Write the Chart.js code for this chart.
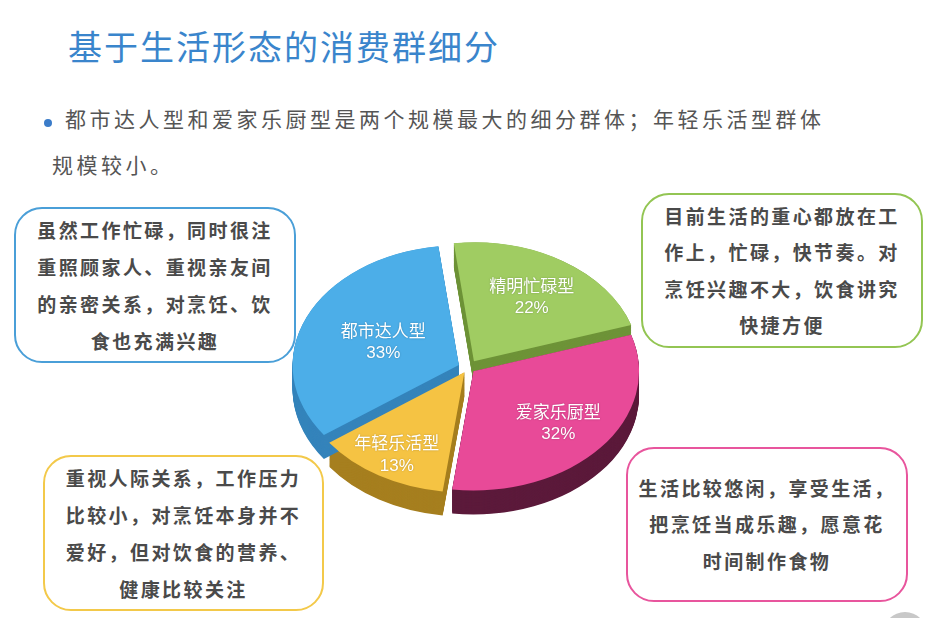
<!DOCTYPE html>
<html>
<head>
<meta charset="utf-8">
<script src="https://cdn.jsdelivr.net/npm/chart.js@4"></script>
<style>
  html, body { margin: 0; padding: 0; background: #fff; }
  body { width: 930px; height: 618px; position: relative; overflow: hidden;
         font-family: "Noto Sans CJK SC", "Noto Sans", sans-serif; }
  .title { position: absolute; left: 68px; top: 24px; font-size: 34px; line-height: 44px;
           letter-spacing: 2px; color: #3a85cc; }
  .bullet { position: absolute; left: 44px; top: 119px; width: 8px; height: 8px;
            border-radius: 50%; background: #3b7cc9; }
  .lead { position: absolute; font-size: 21px; line-height: 30px; letter-spacing: 3.5px; color: #555; }
  .box { position: absolute; box-sizing: border-box; border: 2px solid; border-radius: 28px;
         display: flex; align-items: center; justify-content: center; text-align: center;
         font-size: 19px; letter-spacing: 2.4px; color: #4a4a4a; font-weight: bold; }
  #pieWrap { position: absolute; left: 278px; top: 208px; width: 380px; height: 320px; }
  .dot { position: absolute; left: 883px; top: 612px; width: 44px; height: 44px;
         border-radius: 50%; background: #c8c8c8; }
</style>
</head>
<body>
<div class="title">基于生活形态的消费群细分</div>
<div class="bullet"></div>
<div class="lead" style="left:65px; top:103px;">都市达人型和爱家乐厨型是两个规模最大的细分群体；年轻乐活型群体</div>
<div class="lead" style="left:52px; top:149px;">规模较小。</div>

<div class="box" style="left:14px; top:207px; width:282px; height:156px; border-color:#4a9fd8; line-height:37px;">
  <div>虽然工作忙碌，同时很注<br>重照顾家人、重视亲友间<br>的亲密关系，对烹饪、饮<br>食也充满兴趣</div>
</div>
<div class="box" style="left:641px; top:193px; width:282px; height:155px; border-color:#93c553; line-height:36.5px;">
  <div>目前生活的重心都放在工<br>作上，忙碌，快节奏。对<br>烹饪兴趣不大，饮食讲究<br>快捷方便</div>
</div>
<div class="box" style="left:43px; top:455px; width:281px; height:156px; border-color:#f3c94a; line-height:37px;">
  <div>重视人际关系，工作压力<br>比较小，对烹饪本身并不<br>爱好，但对饮食的营养、<br>健康比较关注</div>
</div>
<div class="box" style="left:626px; top:447px; width:282px; height:155px; border-color:#e8559d; line-height:36.5px;">
  <div>生活比较悠闲，享受生活，<br>把烹饪当成乐趣，愿意花<br>时间制作食物</div>
</div>

<div id="pieWrap"><canvas id="pieChart"></canvas></div>
<div class="dot"></div>

<script>
// data, clockwise from the top
var segNames = ["精明忙碌型", "爱家乐厨型", "年轻乐活型", "都市达人型"];
var segShares = [22, 32, 13, 33];

var topColors = ["#a0cc62", "#e84a98", "#f5c343", "#4caee8"];
var sideColors = ["#6e9338", "#5c1a3b", "#a67f1f", "#3584bb"];
var explode = [44, 28, 28, 40];
// how far out along each slice the label sits (fraction of radius)
var labelDepth = [0.65, 0.67, 0.8, 0.5];

var tilt = 0.72;   // vertical squash of the disc
var depth = 24;    // thickness in page pixels

// squash the pie into an ellipse and extrude the slices
var pie3d = {
  id: 'pie3d',
  beforeDatasetsDraw: function (chart) {
    var ctx = chart.ctx;
    var arcs = chart.getDatasetMeta(0).data;
    var cx = arcs[0].x, cy = arcs[0].y;
    ctx.save();
    ctx.translate(cx, cy);
    ctx.scale(1, tilt);
    ctx.translate(-cx, -cy);
    arcs.forEach(function (arc, i) {
      var side = Object.create(arc);
      side.options = Object.assign({}, arc.options, { backgroundColor: sideColors[i], borderWidth: 0 });
      for (var d = depth / tilt; d > 0; d -= 1) {
        ctx.save();
        ctx.translate(0, d);
        side.draw(ctx);
        ctx.restore();
      }
    });
  },
  afterDatasetsDraw: function (chart) {
    var ctx = chart.ctx;
    ctx.restore();
    var arcs = chart.getDatasetMeta(0).data;
    ctx.save();
    ctx.textAlign = 'center';
    ctx.textBaseline = 'middle';
    ctx.fillStyle = '#ffffff';
    ctx.shadowColor = 'rgba(0,0,0,0.25)';
    ctx.shadowBlur = 2;
    arcs.forEach(function (arc, i) {
      var mid = (arc.startAngle + arc.endAngle) / 2;
      var r = arc.outerRadius * labelDepth[i] + arc.options.offset / 4;
      var px = arc.x + Math.cos(mid) * r;
      var py = arc.y + Math.sin(mid) * r * tilt;
      ctx.font = '17px "Noto Sans CJK SC"';
      ctx.fillText(segNames[i], px, py - 11);
      ctx.font = '17px "Liberation Sans", Arial, sans-serif';
      ctx.fillText(segShares[i] + '%', px, py + 12);
    });
    ctx.restore();
  }
};

var pieChart = new Chart(document.getElementById('pieChart').getContext('2d'), {
  type: 'pie',
  data: {
    labels: segNames,
    datasets: [{
      data: segShares,
      backgroundColor: topColors,
      borderWidth: 0,
      offset: explode
    }]
  },
  options: {
    responsive: true,
    maintainAspectRatio: false,
    animation: false,
    radius: 165,
    rotation: -7,
    layout: { padding: 0 },
    plugins: {
      legend: { display: false },
      tooltip: { enabled: false }
    }
  },
  plugins: [pie3d]
});
</script>
</body>
</html>
